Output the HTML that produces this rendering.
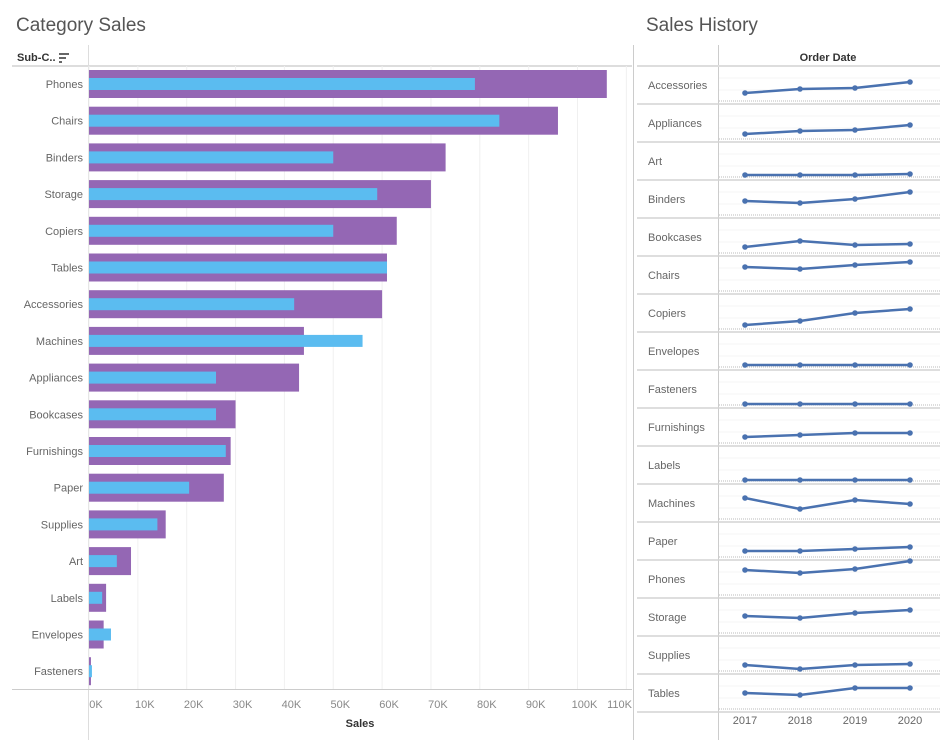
<!DOCTYPE html>
<html><head><meta charset="utf-8"><style>
body{margin:0;background:#fff;font-family:"Liberation Sans",sans-serif;}
svg text{font-family:"Liberation Sans",sans-serif;}
</style></head><body>
<svg id="c" width="940" height="746" xmlns="http://www.w3.org/2000/svg">
<text x="16" y="31" font-size="19" fill="#555">Category Sales</text>
<text x="646" y="31" font-size="19" fill="#555">Sales History</text>
<text x="17" y="61" font-size="11" font-weight="bold" fill="#333">Sub-C..</text>
<g stroke="#333" stroke-width="1.5"><line x1="59" y1="54" x2="69" y2="54"/><line x1="59" y1="58" x2="66" y2="58"/><line x1="59" y1="62" x2="62" y2="62"/></g>
<text x="828" y="61" font-size="11" font-weight="bold" fill="#333" text-anchor="middle">Order Date</text>
<line x1="12" y1="66" x2="632" y2="66" stroke="#ddd" stroke-width="2"/>
<line x1="88.5" y1="45" x2="88.5" y2="740" stroke="#ddd"/>
<line x1="633.5" y1="45" x2="633.5" y2="740" stroke="#ccc"/>
<line x1="718.5" y1="45" x2="718.5" y2="740" stroke="#ccc"/>
<line x1="637" y1="66" x2="940" y2="66" stroke="#ddd" stroke-width="2"/>
<line x1="12" y1="689.5" x2="632" y2="689.5" stroke="#ccc"/>
<text x="360" y="727" font-size="11" font-weight="bold" fill="#333" text-anchor="middle">Sales</text>
<g id="grid"></g><g id="bars"></g><g id="spark"></g>
</svg>
<script>
const categories=["Phones","Chairs","Binders","Storage","Copiers","Tables","Accessories","Machines","Appliances","Bookcases","Furnishings","Paper","Supplies","Art","Labels","Envelopes","Fasteners"];
const salesK=[106,96,73,70,63,61,60,44,43,30,29,27.6,15.7,8.6,3.5,3,0.4];
const compareK=[79,84,50,59,50,61,42,56,26,26,28,20.5,14,5.7,2.7,4.5,0.6];
const xTicks=[0,10,20,30,40,50,60,70,80,90,100,110];
const histCats=["Accessories","Appliances","Art","Binders","Bookcases","Chairs","Copiers","Envelopes","Fasteners","Furnishings","Labels","Machines","Paper","Phones","Storage","Supplies","Tables"];
const years=["2017","2018","2019","2020"];
const hAccessories=[8,12,13,19],hAppliances=[5,8,9,14],hArt=[2,2,2,3],hBinders=[14,12,16,23],hBookcases=[6,12,8,9],hChairs=[24,22,26,29],hCopiers=[4,8,16,20],hEnvelopes=[2,2,2,2],hFasteners=[1,1,1,1],hFurnishings=[6,8,10,10],hLabels=[1,1,1,1],hMachines=[21,10,19,15],hPaper=[6,6,8,10],hPhones=[25,22,26,34],hStorage=[17,15,20,23],hSupplies=[6,2,6,7],hTables=[16,14,21,21];
const histVals=[hAccessories,hAppliances,hArt,hBinders,hBookcases,hChairs,hCopiers,hEnvelopes,hFasteners,hFurnishings,hLabels,hMachines,hPaper,hPhones,hStorage,hSupplies,hTables];
const NS="http://www.w3.org/2000/svg";
function mk(t,a,p){const e=document.createElementNS(NS,t);for(const k in a)e.setAttribute(k,a[k]);p.appendChild(e);return e;}
const x=v=>89+v*4.885;
const yRow=i=>84+i*36.7;
const grid=document.getElementById('grid'),bars=document.getElementById('bars'),sp=document.getElementById('spark');
xTicks.forEach((t,i)=>{
 mk('line',{x1:x(t),x2:x(t),y1:66,y2:689,stroke:'#f0f0f0'},grid);
 const last=i===xTicks.length-1;
 const tx=mk('text',{x:last?632:x(t)+7,y:708,'font-size':11,fill:'#888','text-anchor':last?'end':'middle'},grid);
 tx.textContent=t+'K';
 
 
});
categories.forEach((c,i)=>{
 const y=yRow(i);
 const lb=mk('text',{x:83,y:y+4,'font-size':11,fill:'#666','text-anchor':'end'},bars);
 lb.textContent=c;
 
 
 const b=mk('rect',{x:89,y:y-14,width:Math.max(1,x(salesK[i])-89),height:28,fill:'#9467b4'},bars);
 
 
 const b2=mk('rect',{x:89,y:y-6,width:Math.max(1,x(compareK[i])-89),height:12,fill:'#5bbcf0'},bars);
 
 
});
const xs=i=>745+i*55;
histCats.forEach((c,r)=>{
 const top=66+r*38,base=top+35;
 mk('line',{x1:637,x2:940,y1:top+38,y2:top+38,stroke:'#d4d4d4','stroke-width':1.5},sp);
 mk('line',{x1:719,x2:940,y1:top+12,y2:top+12,stroke:'#f4f4f4'},sp);
 mk('line',{x1:719,x2:940,y1:top+24,y2:top+24,stroke:'#f4f4f4'},sp);
 mk('line',{x1:719,x2:940,y1:base,y2:base,stroke:'#bbb','stroke-dasharray':'1,1'},sp);
 const lb=mk('text',{x:648,y:top+23,'font-size':11,fill:'#666'},sp);
 lb.textContent=c;
 
 
 const v=histVals[r];
 const pts=v.map((d,i)=>xs(i)+','+(base-d)).join(' ');
 const pl=mk('polyline',{points:pts,fill:'none',stroke:'#4a72b0','stroke-width':2.5},sp);
 
 
 v.forEach((d,i)=>{
  const p=mk('circle',{cx:xs(i),cy:base-d,r:2.8,fill:'#4a72b0'},sp);
  
  
 });
});
years.forEach((y,i)=>{
 const t=mk('text',{x:xs(i),y:724,'font-size':11,fill:'#666','text-anchor':'middle'},sp);
 t.textContent=y;
 
 
});
</script>
</body></html>
